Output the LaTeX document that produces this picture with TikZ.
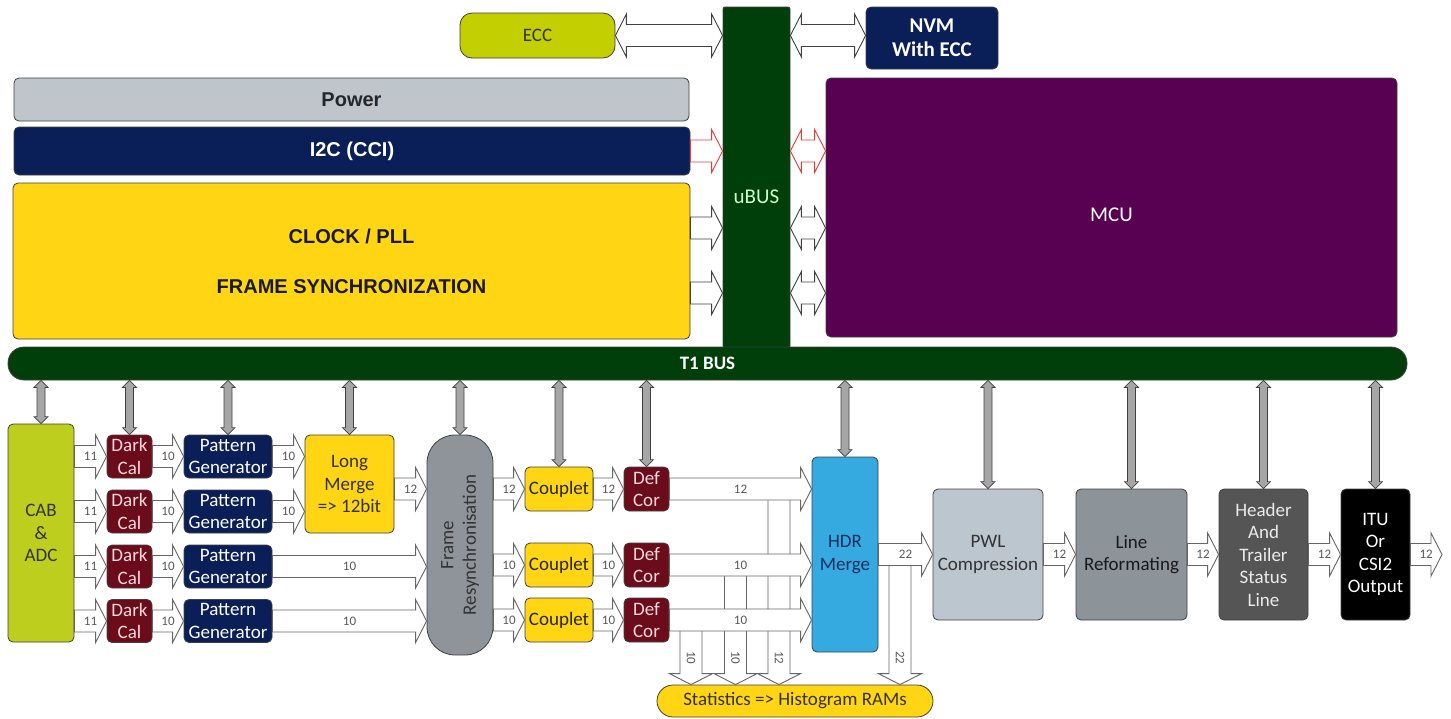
\documentclass[tikz,border=0pt]{standalone}
\usepackage{fontspec}
\setmainfont{Carlito}
\newfontfamily\arialfont{Liberation Sans}
\usetikzlibrary{calc}

% colours
\definecolor{eccgreen}{RGB}{195,207,0}
\definecolor{cabgreen}{RGB}{190,206,30}
\definecolor{navyblk}{RGB}{10,30,88}
\definecolor{powergray}{RGB}{190,198,204}
\definecolor{clockyellow}{RGB}{255,213,20}
\definecolor{busgreen}{RGB}{0,62,10}
\definecolor{mcupurple}{RGB}{88,0,82}
\definecolor{calred}{RGB}{108,12,26}
\definecolor{calpink}{RGB}{246,218,222}
\definecolor{resyncgray}{RGB}{142,148,154}
\definecolor{hdrblue}{RGB}{52,170,225}
\definecolor{hdrtext}{RGB}{25,45,95}
\definecolor{pwlgray}{RGB}{188,198,206}
\definecolor{linegray}{RGB}{140,147,153}
\definecolor{headgray}{RGB}{85,85,85}
\definecolor{arrowred}{RGB}{228,60,60}

% fonts
\newcommand{\boxfont}{\fontsize{19}{22.5}\selectfont}
\newcommand{\headfont}{\arialfont\bfseries\fontsize{20}{24}\selectfont}
\newcommand{\bitfont}{\fontsize{13}{15}\selectfont}
\newcommand{\busfont}{\fontsize{21}{24}\selectfont}

% block arrow sizes
\newcommand{\abw}{11pt}
\newcommand{\ahw}{21.5pt}
\newcommand{\ahl}{11pt}

% hollow arrow to the right, label in the middle
\newcommand{\harrow}[4][hollow]{%
  \draw[#1] let \p1=(#2), \p2=(#3) in
    (\x1,{\y1+\abw}) -- ({\x2-\ahl},{\y1+\abw}) -- ({\x2-\ahl},{\y1+\ahw})
    -- (\x2,\y1) -- ({\x2-\ahl},{\y1-\ahw}) -- ({\x2-\ahl},{\y1-\abw})
    -- (\x1,{\y1-\abw}) -- cycle
    ({0.5*\x1+0.5*\x2},\y1) node[bitlbl] {#4};}

% hollow arrow with two heads
\newcommand{\dharrow}[3][hollow]{%
  \draw[#1] let \p1=(#2), \p2=(#3) in
    (\x1,\y1) -- ({\x1+\ahl},{\y1+\ahw}) -- ({\x1+\ahl},{\y1+\abw})
    -- ({\x2-\ahl},{\y1+\abw}) -- ({\x2-\ahl},{\y1+\ahw}) -- (\x2,\y1)
    -- ({\x2-\ahl},{\y1-\ahw}) -- ({\x2-\ahl},{\y1-\abw})
    -- ({\x1+\ahl},{\y1-\abw}) -- ({\x1+\ahl},{\y1-\ahw}) -- cycle;}

% hollow arrow going down
\newcommand{\varrow}[3]{%
  \draw[hollow] let \p1=(#1), \p2=(#2) in
    ({\x1-\abw},\y1) -- ({\x1-\abw},{\y2+\ahl}) -- ({\x1-\ahw},{\y2+\ahl})
    -- (\x1,\y2) -- ({\x1+\ahw},{\y2+\ahl}) -- ({\x1+\abw},{\y2+\ahl})
    -- ({\x1+\abw},\y1) -- cycle
    (\x1,{\y2+27pt}) node[bitlbl, rotate=-90] {#3};}

% grey link from the T1 bus down to a block
\newcommand{\busarrow}[1]{%
  \draw[busarr] let \p1=(#1.north |- t1bus.south), \p2=(#1.north) in
    (\x1,\y1) -- ({\x1+7pt},{\y1-7pt}) -- ({\x1+4pt},{\y1-7pt})
    -- ({\x1+4pt},{\y2+7pt}) -- ({\x1+7pt},{\y2+7pt}) -- (\x1,\y2)
    -- ({\x1-7pt},{\y2+7pt}) -- ({\x1-4pt},{\y2+7pt})
    -- ({\x1-4pt},{\y1-7pt}) -- ({\x1-7pt},{\y1-7pt}) -- cycle;}

\tikzset{
  box/.style={draw=black!75, line width=0.8pt, rounded corners=5pt, align=center,
    inner sep=0pt, font=\boxfont},
  darkcal/.style={box, fill=calred, text=calpink, minimum width=45pt, minimum height=43pt},
  pattern/.style={box, fill=navyblk, text=white, minimum width=88pt, minimum height=43pt},
  couplet/.style={box, fill=clockyellow, text=black!85, minimum width=68pt, minimum height=44pt},
  stage/.style={box, minimum width=#1, minimum height=131pt},
  hollow/.style={draw=black!60, fill=white, line width=0.9pt},
  hollowdark/.style={draw=black!75, fill=white, line width=0.9pt},
  hollowred/.style={draw=arrowred, fill=white, line width=0.9pt},
  bitlbl/.style={font=\bitfont, text=black!65, inner sep=0pt},
  busarr/.style={draw=black!75, fill=gray!70, line width=0.7pt}
}

\begin{document}
\begin{tikzpicture}[x=1pt, y=-1pt]
\useasboundingbox (0,0) rectangle (1451,718);

% =============================================
% TOP: ECC, uBUS, NVM, Power, I2C, Clock, MCU
% =============================================
\node[box, fill=eccgreen, text=black!80, rounded corners=12pt, minimum width=155pt,
  minimum height=45pt] (ecc) at (537.5,35.5) {ECC};
\node[box, fill=busgreen, rounded corners=2pt, minimum width=67pt, minimum height=341pt,
  label={[font=\busfont, text=white!80!green, yshift=-19.5pt]center:uBUS}] (ubus) at (756.5,177.5) {};
\node[box, fill=navyblk, text=white, font=\bfseries\fontsize{21}{24}\selectfont,
  minimum width=132pt, minimum height=62pt] (nvm) at (932,38) {NVM\\With ECC};

\node[box, fill=powergray, text=black!85, font=\headfont, minimum width=675pt,
  minimum height=43pt] (power) at (351.5,99.5) {Power};
\node[box, fill=navyblk, text=white, font=\headfont, minimum width=676pt,
  minimum height=48pt] (i2c) at (352,151) {I2C (CCI)};
\node[box, fill=clockyellow, text=black!90, font=\headfont\fontsize{20}{50}\selectfont,
  minimum width=677pt, minimum height=156pt] (clock) at (351.5,261)
  {CLOCK / PLL\\FRAME SYNCHRONIZATION};
\node[box, fill=mcupurple, minimum width=571pt, minimum height=259pt,
  label={[font=\busfont, text=white, yshift=-7pt]center:MCU}] (mcu) at (1111.5,207.5) {};

% T1 bus
\node[box, fill=busgreen, rounded corners=16pt, text=white, font=\boxfont\bfseries,
  minimum width=1399pt, minimum height=33pt] (t1bus) at (707.5,363.5) {T1 BUS};

\coordinate (ckA) at ([yshift=33pt]clock.east);
\coordinate (ckB) at ([yshift=-32pt]clock.east);

% links to the uBUS
\dharrow[hollowdark]{ecc.east}{ubus.west |- ecc.east}
\dharrow[hollowdark]{ubus.east |- ecc.east}{nvm.west |- ecc.east}
\harrow[hollowred]{i2c.east}{ubus.west |- i2c.east}{}
\dharrow[hollowred]{ubus.east |- i2c.east}{mcu.west |- i2c.east}
\harrow[hollowdark]{ckA}{ubus.west |- ckA}{}
\dharrow[hollowdark]{ubus.east |- ckA}{mcu.west |- ckA}
\harrow[hollowdark]{ckB}{ubus.west |- ckB}{}
\dharrow[hollowdark]{ubus.east |- ckB}{mcu.west |- ckB}

% =============================================
% BOTTOM: image pipeline
% =============================================
\node[box, fill=cabgreen, text=black!80, minimum width=66pt, minimum height=218pt]
  (cab) at (41,533) {CAB\\\&\\ADC};

\node[darkcal] (dc1) at (129.5,456.5) {Dark\\Cal};
\node[darkcal] (dc2) at (129.5,511.5) {Dark\\Cal};
\node[darkcal] (dc3) at (129.5,566.5) {Dark\\Cal};
\node[darkcal] (dc4) at (129.5,621) {Dark\\Cal};

\node[pattern] (pg1) at (228,456.5) {Pattern\\Generator};
\node[pattern] (pg2) at (228,511.5) {Pattern\\Generator};
\node[pattern] (pg3) at (228,566.5) {Pattern\\Generator};
\node[pattern] (pg4) at (228,621) {Pattern\\Generator};

\node[box, fill=clockyellow, text=black!80, minimum width=89pt, minimum height=98pt]
  (lm) at (349.5,484) {Long\\Merge\\=> 12bit};

\node[box, fill=resyncgray, rounded corners=28pt, minimum width=66pt, minimum height=220pt]
  (frame) at (460,545) {};
\node[rotate=90, align=center, font=\boxfont, text=black!80] (frametxt) at (frame.center)
  {Frame\\Resynchronisation};

\node[couplet] (cp1) at (559,489) {Couplet};
\node[couplet] (cp2) at (559,565) {Couplet};
\node[couplet] (cp3) at (559,620) {Couplet};

\node[darkcal, minimum height=44pt] (dcr1) at (646.5,489) {Def\\Cor};
\node[darkcal, minimum height=44pt] (dcr2) at (646.5,565) {Def\\Cor};
\node[darkcal, minimum height=44pt] (dcr3) at (646.5,620) {Def\\Cor};

\node[box, fill=hdrblue, text=hdrtext, minimum width=66pt, minimum height=195pt]
  (hdr) at (845,554.5) {HDR\\Merge};

\node[stage=110pt, fill=pwlgray, text=black!80] (pwl) at (988,554.5) {PWL\\Compression};
\node[stage=111pt, fill=linegray, text=black!90] (lr) at (1131.5,554.5) {Line\\Reformating};
\node[stage=89pt, fill=headgray, text=white!92!black] (hdrt) at (1263.5,554.5)
  {Header\\And\\Trailer\\Status\\Line};
\node[stage=69pt, fill=black, text=white] (itu) at (1375.5,554.5) {ITU\\Or\\CSI2\\Output};
\coordinate (out) at (1442,554.5);

\node[box, fill=clockyellow, text=black!80, rounded corners=16pt, minimum width=276pt,
  minimum height=32pt] (stats) at (795,701) {Statistics => Histogram RAMs};

% links from the T1 bus
\busarrow{cab}
\busarrow{dc1}
\busarrow{pg1}
\busarrow{lm}
\busarrow{frame}
\busarrow{cp1}
\busarrow{dcr1}
\busarrow{hdr}
\busarrow{pwl}
\busarrow{lr}
\busarrow{hdrt}
\busarrow{itu}

% taps to the statistics (under the data arrows)
\coordinate (tapA) at (691,620);
\coordinate (tapB) at (735.5,565);
\coordinate (tapC) at (779,489);
\coordinate (tapD) at (900,554.5);
\varrow{tapA}{tapA |- stats.north}{10}
\varrow{tapB}{tapB |- stats.north}{10}
\varrow{tapC}{tapC |- stats.north}{12}
\varrow{tapD}{tapD |- stats.north}{22}

% data arrows
\harrow{cab.east |- dc1.west}{dc1.west}{11}
\harrow{cab.east |- dc2.west}{dc2.west}{11}
\harrow{cab.east |- dc3.west}{dc3.west}{11}
\harrow{cab.east |- dc4.west}{dc4.west}{11}
\harrow{dc1.east}{pg1.west}{10}
\harrow{dc2.east}{pg2.west}{10}
\harrow{dc3.east}{pg3.west}{10}
\harrow{dc4.east}{pg4.west}{10}
\harrow{pg1.east}{lm.west |- pg1.east}{10}
\harrow{pg2.east}{lm.west |- pg2.east}{10}
\harrow{pg3.east}{frame.west |- pg3.east}{10}
\harrow{pg4.east}{frame.west |- pg4.east}{10}
\harrow{lm.east |- cp1.west}{frame.west |- cp1.west}{12}

\harrow{frame.east |- cp1.west}{cp1.west}{12}
\harrow{frame.east |- cp2.west}{cp2.west}{10}
\harrow{frame.east |- cp3.west}{cp3.west}{10}
\harrow{cp1.east}{dcr1.west}{12}
\harrow{cp2.east}{dcr2.west}{10}
\harrow{cp3.east}{dcr3.west}{10}
\harrow{dcr1.east}{hdr.west |- dcr1.east}{12}
\harrow{dcr2.east}{hdr.west |- dcr2.east}{10}
\harrow{dcr3.east}{hdr.west |- dcr3.east}{10}

\harrow{hdr.east}{pwl.west}{22}
\harrow{pwl.east}{lr.west}{12}
\harrow{lr.east}{hdrt.west}{12}
\harrow{hdrt.east}{itu.west}{12}
\harrow{itu.east}{out}{12}

\end{tikzpicture}
\end{document}
